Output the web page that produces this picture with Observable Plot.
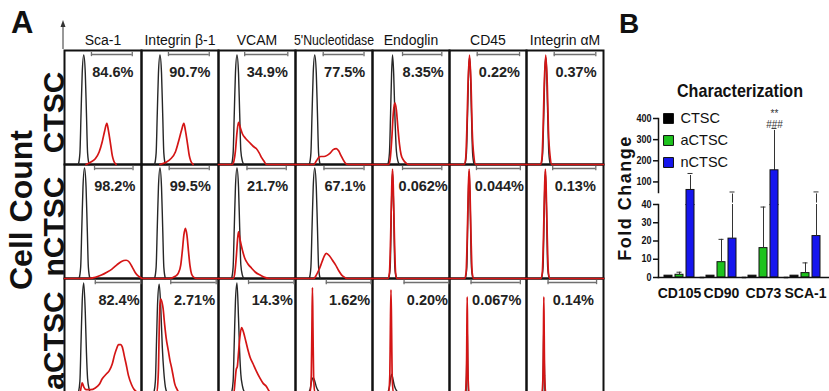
<!DOCTYPE html>
<html><head><meta charset="utf-8">
<script src="https://cdn.jsdelivr.net/npm/d3@7"></script>
<script src="https://cdn.jsdelivr.net/npm/@observablehq/plot@0.6"></script>
<style>
body{margin:0;background:#fff;}
#fig{position:relative;width:829px;height:391px;overflow:hidden;background:#fff;font-family:"Liberation Sans",Arial,sans-serif;}
#fig > svg, #fig > .p{position:absolute;}
</style></head><body><div id="fig">
<svg id="deco" width="829" height="391" style="left:0;top:0">
  <text x="11" y="33" font-size="31" font-weight="bold" fill="#111">A</text>
  <text x="619" y="33" font-size="28" font-weight="bold" fill="#111">B</text>
  <text transform="translate(32,210) rotate(-90)" text-anchor="middle" font-size="32" font-weight="bold" fill="#111">Cell Count</text>
  <text transform="translate(631,198) rotate(-90)" text-anchor="middle" font-size="18" font-weight="bold" letter-spacing="1.5" fill="#111">Fold Change</text>
  <text x="740" y="97" text-anchor="middle" font-size="19" font-weight="bold" fill="#111" textLength="126" lengthAdjust="spacingAndGlyphs">Characterization</text>
  <line x1="63" y1="49" x2="63" y2="25" stroke="#333" stroke-width="1"/>
  <path d="M60.5,27 L63,20 L65.5,27 Z" fill="#333"/>
</svg>
</div>
<script>
// ---------- Panel A data ----------
const markers = ["Sca-1", "Integrin β-1", "VCAM", "5'Nucleotidase", "Endoglin", "CD45", "Integrin αM"];
const samples = ["CTSC", "nCTSC", "aCTSC"];
const percentLabels = [
  ["84.6%", "90.7%", "34.9%", "77.5%", "8.35%", "0.22%", "0.37%"],
  ["98.2%", "99.5%", "21.7%", "67.1%", "0.062%", "0.044%", "0.13%"],
  ["82.4%", "2.71%", "14.3%", "1.62%", "0.20%", "0.067%", "0.14%"]
];
const gateStart = [
  [35, 35, 34, 36, 39, 36, 36],
  [39, 36, 37, 37, 39, 35, 34],
  [40, 38, 39, 40, 41, 28, 28]
];
const gateEnd = [
  [88, 88, 90, 89, 90, 91, 90],
  [89, 88, 88, 89, 90, 92, 90],
  [99, 97, 98, 98, 99, 92, 91]
];
// isotype control histograms (black), [sample][marker] -> [fluorescence, % of max]
const isotypeCurves = [
  [
    [[18,0],[20,10],[21.5,45],[23,80],[25,96],[27,80],[28.5,45],[30,10],[32,0]],
    [[17,0],[19,10],[20.5,45],[22,80],[24,96],[26,80],[27.5,45],[29,10],[31,0]],
    [[17,0],[19,10],[20.5,45],[22,80],[24,96],[26,80],[27.5,45],[29,12],[31,3],[33,0]],
    [[18,0],[20,10],[21.5,45],[23,80],[25,96],[27,80],[28.5,45],[30,10],[32,0]],
    [[20,0],[22,10],[23.5,45],[24.8,80],[26,96],[27.5,80],[29,45],[31,12],[33,3],[35,0]],
    [[20,0],[22,10],[23.5,45],[25,85],[26,94],[27,85],[28.5,45],[30,10],[32,0]],
    [[19,0],[21,10],[22.5,45],[24,85],[25,94],[26,85],[27.5,45],[29,10],[31,0]]
  ],
  [
    [[19,0],[21,10],[22.5,45],[24,80],[26,97],[28,80],[29.5,45],[31,10],[33,0]],
    [[17,0],[19,10],[20.5,45],[22,80],[24,97],[26,80],[27.5,45],[29,10],[31,0]],
    [[17,0],[19,10],[20.5,45],[22,80],[24,97],[26,80],[27.5,45],[29,12],[31,3],[33,0]],
    [[18,0],[20,10],[21.5,45],[23,80],[25,97],[27,80],[28.5,45],[30,10],[32,0]],
    [[21,0],[23,10],[24.5,60],[26,94],[27.5,60],[29,10],[31,0]],
    [[20.5,0],[22.5,10],[24,60],[25.5,94],[27,60],[28.5,10],[30.5,0]],
    [[19.5,0],[21.5,10],[23,60],[24.5,94],[26,60],[27.5,10],[29.5,0]]
  ],
  [
    [[18,0],[20,10],[21.5,45],[23,80],[25,96],[27,70],[28.5,35],[30,12],[32,3],[34,0]],
    [[16,0],[18,10],[19.5,45],[21,80],[23,95],[25,75],[27,40],[29,18],[31,5],[33,0]],
    [[17,0],[19,10],[20.5,45],[22,80],[24,96],[26,65],[27.5,35],[29,16],[31,6],[34,0]],
    [[17,0],[19,3],[21,10],[23,13],[25,10],[27,5],[29,2],[32,0]],
    [[20,0],[22,5],[24,14],[25,16],[26.5,12],[28,7],[30,3],[32,1],[34,0]],
    [[21.5,0],[22.3,25],[23,60],[23.7,25],[24.5,0]],
    [[21,0],[21.8,25],[22.5,60],[23.2,25],[24,0]]
  ]
];
// stained histograms (red)
const stainedCurves = [
  [
    [[28,0],[34,2],[40,5],[45,11],[49,20],[52,29],[55,36],[57,30],[60,17],[62,8],[64,3],[67,0]],
    [[24,0],[32,2],[38,5],[44,11],[48,20],[52,30],[55,36],[57,30],[60,17],[62,8],[64,3],[67,0]],
    [[0,0],[18,0],[20,3],[22,12],[24,28],[26,37],[28,33],[31,27],[35,23],[40,19.5],[45,16],[49,14],[53,10],[56,6],[59,3],[62,0],[100,0]],
    [[0,0],[24,0],[27,3],[30,6],[33,7],[37,7],[41,8],[45,10],[49,13],[53,14],[56,12],[59,8],[62,4],[65,1],[68,0],[100,0]],
    [[0,0],[21,0],[23,5],[25,22],[27,45],[29,54],[31,48],[33,32],[35,18],[37,9],[40,4],[44,1],[47,0],[100,0]],
    [[0,0],[19,0],[21,5],[22.5,30],[24,70],[26,96],[28,70],[29.5,30],[31.5,8],[34,0],[100,0]],
    [[0,0],[18,0],[20,5],[21.5,30],[23,70],[25,96],[27,70],[28.5,30],[30.5,8],[33,0],[100,0]]
  ],
  [
    [[0,0],[30,0],[40,1],[48,3],[55,5.5],[62,8.5],[68,12],[74,15],[80,16],[84,14.5],[88,10],[92,5],[96,2],[100,0.5]],
    [[0,0],[36,0],[44,2],[48,5],[51,12],[53,24],[55,38],[57,44],[59,38],[61,24],[63,11],[65,4],[68,1],[72,0],[100,0]],
    [[0,0],[19,0],[21,4],[23,18],[25,36],[26,41],[28,34],[31,25],[34,18],[38,13],[43,9],[48,5.5],[54,3],[60,1],[66,0],[100,0]],
    [[0,0],[24,0],[27,3],[30,7],[33,12],[36,17.5],[40,22],[44,20],[48,16],[52,12],[56,7],[60,3],[64,1],[67,0],[100,0]],
    [[0,0],[20,0],[22,5],[23.5,35],[25,80],[26,96],[27,80],[28.5,35],[30,5],[32,0],[100,0]],
    [[0,0],[19.5,0],[21.5,5],[23,35],[24.5,80],[25.5,96],[26.5,80],[28,35],[29.5,5],[31.5,0],[100,0]],
    [[0,0],[18.5,0],[20.5,5],[22,35],[23.5,80],[24.5,96],[25.5,80],[27,35],[28.5,5],[30.5,0],[100,0]]
  ],
  [
    [[0,0],[20,0],[22,6],[23,8.5],[25,5],[28,2.5],[34,2.5],[40,4],[45,7],[49,12],[54,16],[58,19],[62,25],[65,33],[68,39],[70,42],[73,42],[75,40],[78,31],[80,25],[83,15],[87,7],[90,3],[93,1],[96,0],[100,0]],
    [[0,0],[20,0],[22,20],[23,55],[24,78],[25,82],[27,78],[28,74],[30,60],[32,48],[35,36],[37,28],[39,22],[41,15],[43,8],[46,3],[49,0],[100,0]],
    [[0,0],[20,0],[21.5,10],[23,20],[24.5,23],[26,35],[28,50],[30,57],[32,54],[34,49],[38,38],[41,31],[45,25],[49,19],[53.5,13],[58,8],[62,5.5],[65,2],[68,0],[100,0]],
    [[0,0],[19,0],[20.5,15],[21.3,55],[22,92],[22.7,55],[23.5,15],[25,0],[100,0]],
    [[0,0],[21,0],[22.5,15],[23.2,55],[24,90],[24.8,55],[25.5,15],[27,0],[100,0]],
    [[0,0],[20.5,0],[22,15],[22.5,50],[23,84],[23.5,50],[24,15],[25.5,0],[100,0]],
    [[0,0],[20,0],[21.5,15],[22,50],[22.5,84],[23,50],[23.5,15],[25,0],[100,0]]
  ]
];

// ---------- Panel B data ----------
const categories = ["CD105", "CD90", "CD73", "SCA-1"];
const series = ["CTSC", "aCTSC", "nCTSC"];
const foldCTSC  = [1, 1, 1, 1];
const foldACTSC = [1.5, 8.4, 16.1, 2.4];
const foldNCTSC = [62, 21.3, 155, 22.7];
const errCTSC  = [0, 0, 0, 0];
const errACTSC = [1.4, 12.5, 22.5, 5.6];
const errNCTSC = [78, 31, 198, 30];
const upperTicks = [100, 200, 300, 400];
const lowerTicks = [0, 10, 20, 30, 40];
const seriesColors = ["#000000", "#1ec31e", "#1616ee"];
const significance = [{category: "CD73", series: "nCTSC", stars: "**", hashes: "###"}];

// ---------- build tables ----------
const curveRows = [];
samples.forEach((s, i) => markers.forEach((m, j) => {
  isotypeCurves[i][j].forEach(([x, y]) => curveRows.push({sample: s, marker: m, kind: "isotype", id: `${i}-${j}-iso`, x, y}));
  stainedCurves[i][j].forEach(([x, y]) => curveRows.push({sample: s, marker: m, kind: "stained", id: `${i}-${j}-st`, x, y}));
}));
const panelRows = samples.flatMap((s, i) => markers.map((m, j) => ({
  sample: s, marker: m, pct: percentLabels[i][j], g0: gateStart[i][j], g1: gateEnd[i][j]
})));

const fig = document.getElementById("fig");
const place = (el, left, top) => { el.style.left = left + "px"; el.style.top = top + "px"; fig.appendChild(el); };
// squeeze text horizontally (the original uses a condensed typeface)
function condense(root, selector, factor, maxLen = Infinity) {
  root.querySelectorAll(selector).forEach(t => {
    if (t.querySelector("tspan")) return;
    const len = t.getComputedTextLength();
    const target = Math.min(len * factor, maxLen);
    if (target < len) {
      t.setAttribute("textLength", target);
      t.setAttribute("lengthAdjust", "spacingAndGlyphs");
    }
  });
}

// ---------- Panel A ----------
const plotA = Plot.plot({
  width: 610, height: 393,
  marginLeft: 63, marginRight: 7, marginTop: 49, marginBottom: 0,
  style: {background: "transparent", overflow: "visible", fontFamily: "'Liberation Sans',Arial,sans-serif", color: "#111"},
  fx: {domain: markers, padding: 0, label: null},
  fy: {domain: samples, padding: 0, label: null, axis: null},
  x: {domain: [0, 100], axis: null},
  y: {domain: [0, 100], axis: null},
  marks: [
    Plot.axisFx({anchor: "top", tickSize: 0, tickPadding: 6, fontSize: 14, label: null}),
    Plot.frame({stroke: "#111", strokeWidth: 2}),
    Plot.ruleY(panelRows, {fx: "marker", fy: "sample", y: 96.5, x1: "g0", x2: "g1", stroke: "#707070", strokeWidth: 1.5}),
    Plot.ruleX(panelRows, {fx: "marker", fy: "sample", x: "g0", y1: 94.6, y2: 98.4, stroke: "#707070", strokeWidth: 1.3}),
    Plot.ruleX(panelRows, {fx: "marker", fy: "sample", x: "g1", y1: 94.6, y2: 98.4, stroke: "#707070", strokeWidth: 1.3}),
    Plot.line(curveRows.filter(d => d.kind === "isotype"), {fx: "marker", fy: "sample", x: "x", y: "y", z: "id", stroke: "#262626", strokeWidth: 1.4, curve: "monotone-x"}),
    Plot.line(curveRows.filter(d => d.kind === "stained"), {fx: "marker", fy: "sample", x: "x", y: "y", z: "id", stroke: "#d41515", strokeWidth: 1.7, curve: "monotone-x"}),
    Plot.text(panelRows, {fx: "marker", fy: "sample", x: d => (d.g0 + d.g1) / 2, y: 81, dx: 1, text: "pct", fontSize: 14.5, fontWeight: "bold", fill: "#222", ariaLabel: "pct"}),
    Plot.text(samples, {fx: () => markers[0], fy: d => d, text: d => d, frameAnchor: "left", rotate: -90, textAnchor: "middle", lineAnchor: "bottom", dx: -1, dy: 5, fontSize: 30, fontWeight: "bold", fill: "#111"})
  ]
});
place(plotA, 0, 0);
condense(plotA, 'g[aria-label="pct"] text', 0.8);
condense(plotA, 'g[aria-label="fx-axis tick label"] text', 1, 80);

// ---------- Panel B ----------
const valuesBy = [foldCTSC, foldACTSC, foldNCTSC];
const errorsBy = [errCTSC, errACTSC, errNCTSC];
const bars = categories.flatMap((c, i) => series.map((s, j) => ({category: c, series: s, value: valuesBy[j][i], err: errorsBy[j][i]})));
const upperMin = 50, lowerMax = 40;
const xBand = {domain: series, paddingInner: 0.3, paddingOuter: 0.5, axis: null};
const colorScale = {domain: series, range: seriesColors};
const bStyle = {background: "transparent", overflow: "visible", fontFamily: "'Liberation Sans',Arial,sans-serif", color: "#111"};
const errTop = d => { const b = bars.find(e => e.category === d.category && e.series === d.series); return b.value + b.err; };

const upper = Plot.plot({
  width: 219, height: 106, marginLeft: 47, marginRight: 3, marginTop: 18, marginBottom: 14,
  style: bStyle,
  fx: {domain: categories, padding: 0, axis: null},
  x: xBand,
  y: {domain: [upperMin, 400], axis: null},
  color: colorScale,
  marks: [
    Plot.frame({anchor: "left", facetAnchor: "left", stroke: "#111", strokeWidth: 1.5}),
    Plot.axisY({ticks: upperTicks, tickSize: 5, tickPadding: 2, fontSize: 10, fontWeight: "bold", label: null, strokeWidth: 1.5}),
    Plot.ruleX(bars.filter(d => d.err > 0 && d.value + d.err > lowerMax), {fx: "category", x: "series", y1: 0, y2: d => d.value + d.err, insetBottom: -2, stroke: "#333", strokeWidth: 1}),
    Plot.tickY(bars.filter(d => d.err > 0 && d.value + d.err > lowerMax), {fx: "category", x: "series", y: d => d.value + d.err, insetLeft: 1.5, insetRight: 1.5, stroke: "#333", strokeWidth: 1}),
    Plot.barY(bars.filter(d => d.value > upperMin), {fx: "category", x: "series", y: "value", fill: "series", stroke: "#111", strokeWidth: 1, insetBottom: -2}),
    Plot.text(significance, {fx: "category", x: "series", y: errTop, text: "hashes", lineAnchor: "bottom", dy: 0, fontSize: 10, fill: "#333"}),
    Plot.text(significance, {fx: "category", x: "series", y: errTop, text: "stars", lineAnchor: "bottom", dy: -11, fontSize: 10, fill: "#333"})
  ]
});
place(upper, 610, 100);
condense(upper, 'g[aria-label="y-axis tick label"] text', 0.9);

const lower = Plot.plot({
  width: 219, height: 137, marginLeft: 47, marginRight: 3, marginTop: 24, marginBottom: 40,
  style: bStyle,
  fx: {domain: categories, padding: 0, label: null},
  x: xBand,
  y: {domain: [0, lowerMax], axis: null},
  color: colorScale,
  marks: [
    Plot.barY(bars, {fx: "category", x: "series", y: "value", fill: "series", stroke: "#111", strokeWidth: 1, clip: true}),
    Plot.ruleX(bars.filter(d => d.err > 0), {fx: "category", x: "series", y1: "value", y2: d => d.value + d.err, stroke: "#333", strokeWidth: 1, clip: true}),
    Plot.tickY(bars.filter(d => d.err > 0 && d.value + d.err <= lowerMax), {fx: "category", x: "series", y: d => d.value + d.err, insetLeft: 1.5, insetRight: 1.5, stroke: "#333", strokeWidth: 1}),
    Plot.frame({anchor: "left", facetAnchor: "left", stroke: "#111", strokeWidth: 1.5}),
    Plot.frame({anchor: "bottom", stroke: "#111", strokeWidth: 1.5, insetRight: -3}),
    Plot.axisY({ticks: lowerTicks, tickSize: 5, tickPadding: 2, fontSize: 10, fontWeight: "bold", label: null, strokeWidth: 1.5}),
    Plot.axisFx({anchor: "bottom", tickSize: 0, tickPadding: 11, fontSize: 14, fontWeight: "bold", label: null})
  ]
});
place(lower, 610, 180);
condense(lower, 'g[aria-label="y-axis tick label"] text', 0.9);

// legend
const legend = Plot.plot({
  width: 70, height: 66, margin: 0,
  style: bStyle,
  y: {domain: series, type: "point", padding: 0.5, axis: null},
  color: colorScale,
  marks: [
    Plot.dot(series, {y: d => d, fill: d => d, symbol: "square", r: 5.6, stroke: "#111", strokeWidth: 1, frameAnchor: "left", dx: 5}),
    Plot.text(series, {y: d => d, text: d => d, frameAnchor: "left", dx: 17, fontSize: 14.5, fill: "#111", ariaLabel: "legend-label"})
  ]
});
place(legend, 663, 107);
condense(legend, 'g[aria-label="legend-label"] text', 0.87);
</script>
</body></html>
